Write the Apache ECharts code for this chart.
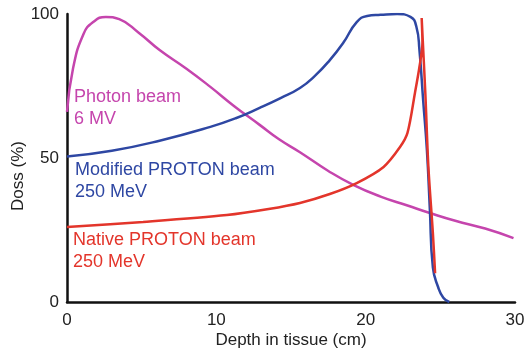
<!DOCTYPE html>
<html>
<head>
<meta charset="utf-8">
<script src="https://cdn.jsdelivr.net/npm/echarts@6/dist/echarts.min.js"></script>
<style>
  html, body { margin: 0; padding: 0; background: #fff; }
  #chart { width: 524px; height: 357px; }
</style>
</head>
<body>
<div id="chart"></div>
<script>
// depth (cm) / dose (%) pairs
var photonData = [
  [0, 66], [0.4, 81], [1.1, 93], [1.75, 97.2], [2.6, 99], [3.5, 98.2],
  [4.8, 93.5], [6.2, 87.5], [8, 81], [9.6, 74.7], [11.2, 68], [12.9, 61.5],
  [14.2, 56.5], [15.6, 52], [17.5, 45.5], [19.2, 40.6], [21, 36.6], [22.8, 33.5],
  [24.3, 30.9], [26, 28.2], [28, 25.5], [29.9, 22.2]
]
var modifiedData = [
  [0, 50.5], [3, 52.5], [6.2, 56], [9.6, 60.8], [11.3, 63.8], [12.9, 67.4],
  [14.3, 70.8], [15.6, 74.3], [16.6, 78.5], [17.6, 84], [18.5, 90], [19.4, 97.2],
  [20.1, 99.3], [21, 99.7], [22.1, 100], [23, 99], [23.4, 95.5], [23.6, 87.5],
  [23.85, 70], [24.1, 52.8], [24.3, 32], [24.5, 12], [24.85, 5.2], [25.2, 1.5],
  [25.6, 0]
]
var nativeData = [
  [0, 26], [5.1, 27.8], [10.7, 30.2], [13.5, 32.3], [15.6, 34.4], [17.6, 37.5],
  [19.4, 41.3], [21.2, 46.9], [22.3, 53.8], [22.8, 58.7], [23.3, 72.6], [23.6, 81.6],
  [23.8, 90], [23.75, 98.6], [24, 72], [24.2, 46.9], [24.5, 24], [24.65, 10]
]
var seriesNames = ['Photon beam', 'Modified PROTON beam', 'Native PROTON beam']
var xTicks = [0, 10, 20, 30]
var yTicks = [0, 50, 100]

var colors = ['#c545ad', '#2e47a3', '#e3352b']
var font = 'Liberation Sans, Arial, sans-serif'

var chart = echarts.init(document.getElementById('chart'))

function beamLabel(lines, left, top, color) {
  return {
    type: 'text',
    left: left,
    top: top,
    style: {
      text: lines.join('\n'),
      fill: color,
      font: '18px ' + font,
      lineHeight: 22
    }
  }
}

chart.setOption({
  animation: false,
  grid: {
    left: 67,
    right: 9,
    top: 14,
    bottom: 55,
    outerBoundsMode: 'none'
  },
  xAxis: {
    type: 'value',
    min: 0,
    max: 30,
    interval: 10,
    name: 'Depth in tissue (cm)',
    nameLocation: 'middle',
    nameGap: 30,
    nameMoveOverlap: false,
    nameTextStyle: { color: '#222', fontSize: 17, fontFamily: font },
    axisLine: { lineStyle: { color: '#111', width: 2.5 } },
    axisTick: { show: false },
    splitLine: { show: false },
    axisLabel: {
      color: '#222',
      fontSize: 17,
      fontFamily: font,
      margin: 10,
      formatter: function (v) { return xTicks.indexOf(v) >= 0 ? v : '' }
    }
  },
  yAxis: {
    type: 'value',
    min: 0,
    max: 100,
    interval: 50,
    name: 'Doss (%)',
    nameLocation: 'middle',
    nameGap: 40,
    nameMoveOverlap: false,
    nameTextStyle: { color: '#222', fontSize: 17, fontFamily: font, padding: [0, 36, 0, 0] },
    axisLine: { show: true, lineStyle: { color: '#111', width: 2.5 } },
    axisTick: { show: false },
    splitLine: { show: false },
    axisLabel: {
      color: '#222',
      fontSize: 17,
      fontFamily: font,
      margin: 8,
      formatter: function (v) { return yTicks.indexOf(v) >= 0 ? v : '' }
    }
  },
  series: [
    {
      name: seriesNames[0],
      type: 'line',
      data: photonData,
      smooth: 0.5,
      showSymbol: false,
      lineStyle: { color: colors[0], width: 2.5 }
    },
    {
      name: seriesNames[1],
      type: 'line',
      data: modifiedData,
      smooth: 0.5,
      showSymbol: false,
      lineStyle: { color: colors[1], width: 2.5 }
    },
    {
      name: seriesNames[2],
      type: 'line',
      data: nativeData,
      smooth: 0.3,
      showSymbol: false,
      lineStyle: { color: colors[2], width: 2.5 }
    }
  ],
  graphic: [
    beamLabel(['Photon beam', '6 MV'], 74, 86, colors[0]),
    beamLabel(['Modified PROTON beam', '250 MeV'], 75, 159, colors[1]),
    beamLabel(['Native PROTON beam', '250 MeV'], 73, 229, colors[2])
  ]
})
</script>
</body>
</html>
